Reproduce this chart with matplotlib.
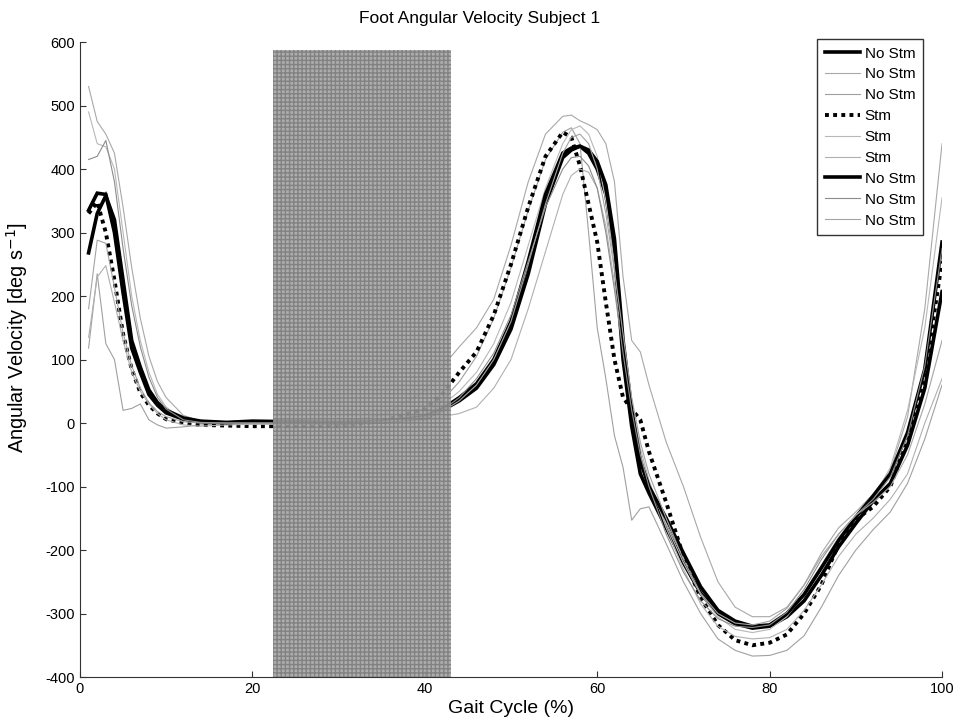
import matplotlib
matplotlib.use("Agg")
import matplotlib.pyplot as plt
from matplotlib.patches import Rectangle

plt.rcParams["font.family"] = ["Liberation Sans", "DejaVu Sans"]
plt.rcParams["axes.unicode_minus"] = False

# gait cycle sample points (%)
gait = [1, 2, 3, 4, 5, 6, 7, 8, 9, 10, 12, 14, 17, 20, 25, 30, 35, 40,
        42, 44, 46, 48, 50, 52, 54, 56, 57, 58, 59, 60, 61, 62, 63, 64, 65, 66,
        68, 70, 72, 74, 76, 78, 80, 82, 84, 86, 88, 90, 92, 94, 96, 98, 100]

# mean traces (deg/s)
nostm_a = [335, 362, 360, 300, 205, 118, 80, 45, 28, 16, 6, 2, 0, 2, 1, 0, 2, 8,
           20, 35, 55, 92, 148, 235, 345, 418, 430, 436, 425, 400, 360, 270, 100, -5, -80, -110,
           -165, -220, -268, -300, -316, -323, -320, -305, -280, -240, -195, -158, -123, -95, -35, 55, 207]
stm_mean = [330, 348, 300, 225, 140, 85, 48, 28, 15, 6, 0, -3, -4, -5, -5, -5, 3, 22,
            45, 80, 112, 170, 250, 340, 420, 458, 450, 405, 345, 285, 190, 100, 40, 22, 5, -45,
            -125, -210, -275, -318, -342, -350, -346, -333, -300, -255, -190, -152, -132, -100, -25, 75, 255]
nostm_b = [268, 330, 358, 320, 225, 130, 88, 52, 32, 20, 8, 3, 1, 3, 2, 1, 2, 10,
           22, 40, 62, 100, 160, 255, 360, 425, 433, 436, 430, 412, 375, 290, 130, 20, -60, -100,
           -150, -205, -258, -295, -312, -320, -318, -300, -270, -228, -185, -148, -115, -80, -15, 85, 285]

# individual trials (deg/s)
nostm_a1 = [530, 475, 455, 425, 340, 245, 165, 105, 65, 40, 12, 3, 1, 0, 0, 1, 12, 50,
            88, 120, 150, 195, 280, 380, 455, 483, 485, 476, 470, 462, 440, 380, 230, 130, 112, 60,
            -30, -100, -180, -250, -290, -305, -305, -290, -255, -205, -165, -140, -112, -75, 10, 180, 440]
nostm_a2 = [118, 235, 125, 100, 20, 23, 30, 5, -3, -8, -6, -3, -1, 0, -1, 0, 2, 15,
            35, 65, 105, 165, 245, 335, 415, 458, 465, 440, 300, 150, 70, -20, -70, -153, -135, -132,
            -190, -250, -300, -340, -358, -367, -366, -358, -335, -290, -240, -200, -168, -140, -95, -25, 60]
stm_1 = [490, 440, 435, 400, 300, 200, 130, 80, 45, 25, 6, 1, 0, 1, 0, 0, 2, 12,
         28, 50, 80, 125, 190, 280, 370, 440, 462, 468, 455, 420, 350, 250, 130, 20, -50, -95,
         -160, -220, -270, -305, -325, -330, -325, -305, -270, -225, -180, -148, -118, -70, 20, 150, 355]
stm_2 = [135, 230, 248, 190, 130, 80, 50, 30, 15, 5, -3, -5, -3, -2, -2, -1, 0, 4,
         10, 15, 25, 55, 100, 180, 270, 360, 390, 400, 395, 370, 310, 220, 120, 30, -40, -90,
         -165, -230, -285, -320, -336, -340, -338, -325, -295, -255, -210, -175, -150, -120, -80, 0, 70]
nostm_b1 = [415, 420, 445, 380, 275, 185, 120, 72, 40, 22, 5, 1, 0, 0, 0, 0, 2, 10,
            20, 40, 70, 110, 170, 255, 340, 400, 418, 420, 405, 370, 300, 210, 110, 20, -50, -100,
            -175, -235, -280, -308, -320, -322, -318, -298, -262, -215, -175, -145, -120, -85, -20, 90, 275]
nostm_b2 = [180, 288, 283, 214, 142, 90, 55, 32, 18, 10, 2, 0, 0, 0, 0, 0, 1, 8,
            18, 35, 60, 100, 160, 250, 345, 425, 450, 455, 440, 400, 330, 240, 140, 40, -30, -80,
            -150, -215, -268, -300, -315, -318, -312, -292, -255, -210, -175, -145, -125, -100, -50, 30, 130]

stim_window = (22.4, 43.0)

fig = plt.figure(figsize=(9.6, 7.24), dpi=100)
ax = fig.add_axes([0.0833, 0.0649, 0.898, 0.877])

thick = dict(color="black", lw=2.6, solid_joinstyle="miter")
thin = dict(lw=0.8)
ax.plot(gait, nostm_a, label="No Stm", **thick)
ax.plot(gait, nostm_a1, color="#a8a8a8", label="No Stm", **thin)
ax.plot(gait, nostm_a2, color="#a0a0a0", label="No Stm", **thin)
ax.plot(gait, stm_mean, color="black", lw=2.8, dashes=(1.0, 1.1), label="Stm")
ax.plot(gait, stm_1, color="#b8b8b8", label="Stm", **thin)
ax.plot(gait, stm_2, color="#b0b0b0", label="Stm", **thin)
ax.plot(gait, nostm_b, label="No Stm", **thick)
ax.plot(gait, nostm_b1, color="#8c8c8c", label="No Stm", **thin)
ax.plot(gait, nostm_b2, color="#a4a4a4", label="No Stm", **thin)

# stimulation window, drawn over the traces
ax.add_patch(Rectangle((stim_window[0], -400), stim_window[1] - stim_window[0], 988,
                       facecolor="#a2a2a2", edgecolor="#7c7c7c", hatch="++++",
                       linewidth=0, alpha=0.88, zorder=5))

ax.set_xlim(0, 100)
ax.set_ylim(-400, 600)
ax.set_xticks(range(0, 101, 20))
ax.set_yticks(range(-400, 601, 100))
ax.tick_params(direction="in", length=4.5, labelsize=10.5, color="#333333")
for s in ("top", "right"):
    ax.spines[s].set_visible(False)
for s in ("left", "bottom"):
    ax.spines[s].set_color("#333333")

fig.text(0.5, 0.975, "Foot Angular Velocity Subject 1", fontsize=12.5,
         ha="center", va="center")
ax.set_xlabel("Gait Cycle (%)", fontsize=14, labelpad=3)
ax.set_ylabel("Angular Velocity [deg s$^{-1}$]", fontsize=14.3)
ax.yaxis.set_label_coords(-0.058, 0.534)

leg = ax.legend(loc="upper right", bbox_to_anchor=(0.978, 1.005), fontsize=11,
                frameon=True, fancybox=False, handlelength=2.3, handletextpad=0.3,
                labelspacing=0.45, borderpad=0.5, borderaxespad=0)
leg.get_frame().set_edgecolor("black")
leg.get_frame().set_linewidth(1.0)
leg.set_zorder(10)

fig.savefig("out.png", dpi=100, facecolor="white")
